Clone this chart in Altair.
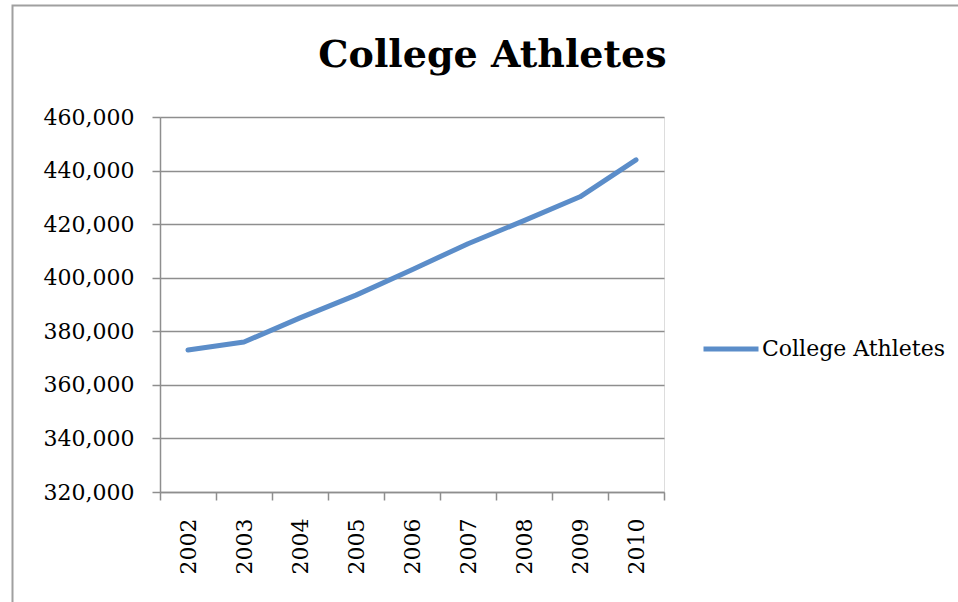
import altair as alt
import pandas as pd

# Participation counts by year
years = ["2002", "2003", "2004", "2005", "2006", "2007", "2008", "2009", "2010"]
athletes = [373000, 376000, 385000, 393500, 403000, 412700, 421300, 430200, 444000]
series_name = "College Athletes"
chart_title = "College Athletes"
y_ticks = [320000, 340000, 360000, 380000, 400000, 420000, 440000, 460000]

df = pd.DataFrame({"Year": years, "Athletes": athletes, "Series": series_name})

FONT = "DejaVu Serif"
GRID = "#8e8e8e"
LINE = "#5B8DC9"

x = alt.X(
    "Year:O",
    sort=years,
    scale=alt.Scale(paddingInner=0, paddingOuter=0),
    axis=alt.Axis(
        title=None,
        labelAngle=-90,
        labelAlign="right",
        labelBaseline="middle",
        labelFont=FONT,
        labelFontSize=22,
        labelColor="black",
        labelPadding=18,
        tickBand="extent",
        tickSize=8,
        tickColor=GRID,
        tickWidth=1.5,
        domainColor=GRID,
        domainWidth=1.5,
        grid=False,
    ),
)

y = alt.Y(
    "Athletes:Q",
    scale=alt.Scale(domain=[320000, 460000], nice=False, zero=False),
    axis=alt.Axis(
        title=None,
        values=y_ticks,
        format=",d",
        labelFont=FONT,
        labelFontSize=22,
        labelColor="black",
        labelPadding=18,
        tickSize=8,
        tickColor=GRID,
        tickWidth=1.5,
        domainColor=GRID,
        domainWidth=1.5,
        grid=True,
        gridColor=GRID,
        gridWidth=1.5,
    ),
)

line = (
    alt.Chart(df)
    .mark_line(strokeWidth=5, strokeCap="round", strokeJoin="round")
    .encode(
        x=x,
        y=y,
        color=alt.Color(
            "Series:N",
            scale=alt.Scale(domain=[series_name], range=[LINE]),
            legend=alt.Legend(
                title=None,
                orient="none",
                legendX=541,
                legendY=202,
                symbolType="stroke",
                symbolSize=3025,
                symbolStrokeWidth=5,
                labelFont=FONT,
                labelFontSize=22,
                labelColor="black",
                labelOffset=1,
                labelLimit=400,
            ),
        ),
    )
)

single = alt.Data(values=[{"f": 1}])

# Outer chart frame
frame = (
    alt.Chart(single)
    .mark_rect(fill=None, stroke="#a0a0a0", strokeWidth=2)
    .encode(
        x=alt.value(-147.5),
        x2=alt.value(803),
        y=alt.value(-111.5),
        y2=alt.value(490),
    )
)

# Chart heading
heading = (
    alt.Chart(single)
    .mark_text(
        font=FONT,
        fontSize=38,
        fontWeight="bold",
        color="black",
        align="center",
        baseline="alphabetic",
    )
    .encode(x=alt.value(332.5), y=alt.value(-50), text=alt.value(chart_title))
)

chart = (
    alt.layer(frame, heading, line)
    .properties(
        width=504,
        height=375,
        autosize=alt.AutoSizeParams(type="none"),
        padding={"left": 160, "top": 117, "right": 294, "bottom": 110},
    )
    .configure_view(stroke=None)
    .configure(background="white")
)

chart.save("out.html", embed_options={"renderer": "svg", "actions": False})
